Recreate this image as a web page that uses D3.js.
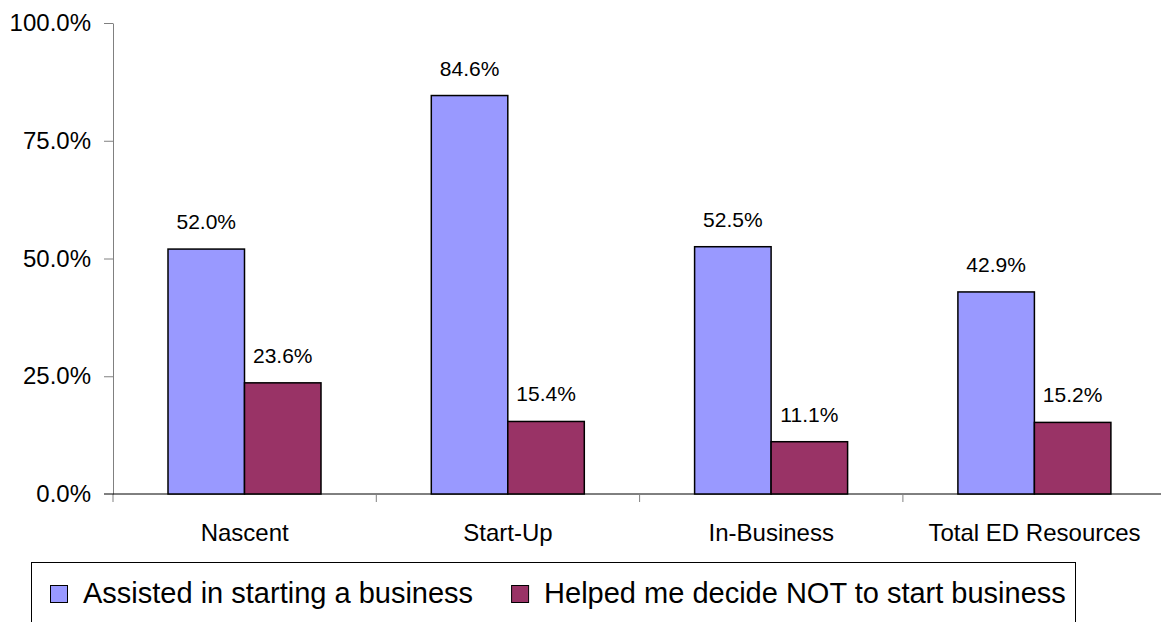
<!DOCTYPE html>
<html>
<head>
<meta charset="utf-8">
<script src="https://cdn.jsdelivr.net/npm/d3@7"></script>
<style>
  body { margin: 0; background: #fff; }
  text { font-family: "Liberation Sans", Arial, sans-serif; fill: #000; }
</style>
</head>
<body>
<svg id="drawing_region"></svg>
<script>
// chart data
const categories = ["Nascent", "Start-Up", "In-Business", "Total ED Resources"];
const seriesNames = ["Assisted in starting a business", "Helped me decide NOT to start business"];
const assisted = [0.520, 0.846, 0.525, 0.429];
const helpedNot = [0.236, 0.154, 0.111, 0.152];
const yTicks = [0, 0.25, 0.5, 0.75, 1.0];
const colors = ["#9999FF", "#993366"];

const width = 1161, height = 622;
const svg = d3.select('#drawing_region')
    .attr('width', width)
    .attr('height', height);

const plot = {left: 113, top: 23, bottom: 494, band: 263.3};

const xscale = d3.scaleBand()
    .domain(categories)
    .range([plot.left, plot.left + plot.band * categories.length])
    .padding(0);

const x1 = d3.scaleBand()
    .domain(seriesNames)
    .range([55, 55 + 153])
    .padding(0);

const yscale = d3.scaleLinear()
    .domain([0, 1])
    .range([plot.bottom, plot.top]);

// y axis
const yaxis = d3.axisLeft(yscale)
    .tickValues(yTicks)
    .tickFormat(d3.format('.1%'))
    .tickSize(9)
    .tickPadding(13)
    .tickSizeOuter(0);

const yg = svg.append('g')
    .attr('transform', `translate(${plot.left},0)`)
    .call(yaxis);
yg.select('.domain').attr('stroke', '#808080');
yg.selectAll('.tick line').attr('stroke', '#808080');
yg.selectAll('.tick text')
    .style('font-size', '24px')
    .attr('fill', '#000');
yg.select('.tick:first-of-type line').attr('x2', 0);
// extend y axis slightly below the baseline
yg.append('line')
    .attr('x1', 0).attr('x2', 0)
    .attr('y1', plot.bottom).attr('y2', plot.bottom + 8)
    .attr('stroke', '#808080');

// x axis
const xaxis = d3.axisBottom(xscale)
    .tickSize(0)
    .tickPadding(30)
    .tickSizeOuter(0);

const xg = svg.append('g')
    .attr('transform', `translate(0,${plot.bottom})`)
    .call(xaxis);
xg.select('.domain').remove();
xg.append('line')
    .attr('x1', plot.left - 9)
    .attr('x2', xscale.range()[1])
    .attr('stroke', '#000');
xg.selectAll('.tick text')
    .style('font-size', '24px')
    .attr('fill', '#000');
// category separators
xg.selectAll('.sep')
    .data(categories.slice(1))
    .join('line')
    .attr('class', 'sep')
    .attr('x1', d => xscale(d)).attr('x2', d => xscale(d))
    .attr('y1', 0).attr('y2', 8)
    .attr('stroke', '#808080');

// bars
const rows = categories.map((c, i) => ({cat: c, values: [assisted[i], helpedNot[i]]}));

const groups = svg.append('g')
    .selectAll('g')
    .data(rows)
    .join('g')
    .attr('transform', d => `translate(${xscale(d.cat)},0)`);

groups.selectAll('rect')
    .data(d => d.values.map((v, j) => ({name: seriesNames[j], v: v, j: j})))
    .join('rect')
    .attr('x', d => x1(d.name))
    .attr('y', d => yscale(d.v))
    .attr('width', x1.bandwidth())
    .attr('height', d => plot.bottom - yscale(d.v))
    .attr('fill', d => colors[d.j])
    .attr('stroke', '#000')
    .attr('stroke-width', 1.5);

groups.selectAll('text.val')
    .data(d => d.values.map((v, j) => ({name: seriesNames[j], v: v, j: j})))
    .join('text')
    .attr('class', 'val')
    .attr('x', d => x1(d.name) + x1.bandwidth() / 2)
    .attr('y', d => yscale(d.v) - 20)
    .attr('text-anchor', 'middle')
    .style('font-size', '21px')
    .text(d => d3.format('.1%')(d.v));

// legend
const legend = svg.append('g');
legend.append('rect')
    .attr('x', 31.5).attr('y', 562.5)
    .attr('width', 1044).attr('height', 100)
    .attr('fill', '#fff')
    .attr('stroke', '#000')
    .attr('stroke-width', 1);

let lx = 50;
seriesNames.forEach((name, i) => {
    legend.append('rect')
        .attr('x', lx + 0.5).attr('y', 585.5)
        .attr('width', 17).attr('height', 17)
        .attr('fill', colors[i])
        .attr('stroke', '#000');
    const t = legend.append('text')
        .attr('x', lx + 33)
        .attr('y', 603)
        .style('font-size', '29px')
        .text(name);
    lx = lx + 33 + t.node().getComputedTextLength() + 38;
});
</script>
</body>
</html>
